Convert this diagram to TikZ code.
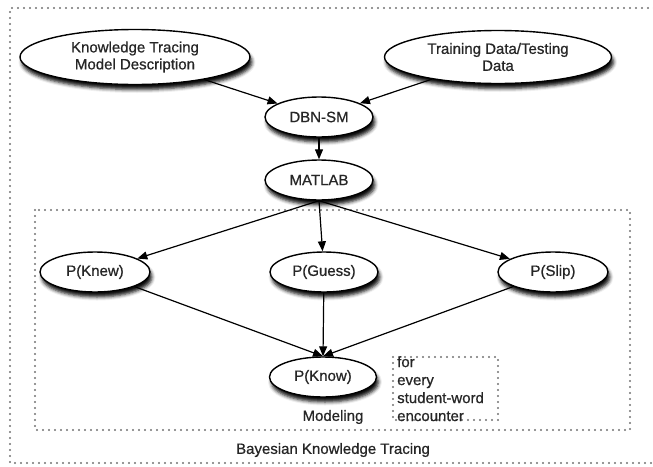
\documentclass[tikz,border=0pt]{standalone}
\usepackage{fontspec}
\setmainfont[FakeBold=0.7]{Liberation Sans}
\usetikzlibrary{shapes.geometric,arrows.meta,shadows.blur}
\begin{document}
\begin{tikzpicture}[x=1pt,y=-1pt,
  txt/.style={font=\fontsize{15}{17}\selectfont, text=black!85},
  oval/.style={ellipse, draw=black, line width=1.4pt, fill=white, inner sep=0pt,
    txt, align=center,
    blur shadow={shadow xshift=2pt, shadow yshift=-5pt, shadow blur radius=3.5pt, shadow opacity=95}},
  dotline/.style={draw=black!55, line width=2.2pt, line cap=round, dash pattern=on 0pt off 6pt},
  arr/.style={-{Triangle[length=10pt,width=8pt]}, line width=1.2pt, black}]
\useasboundingbox (0,0) rectangle (653,466);
% outer and inner dotted frames
\draw[dotline] (660,8) -- (10,8) -- (10,463) -- (660,463);
\draw[dotline] (35,210) rectangle (630,430);
\draw[dotline] (393,357) rectangle (498,420);
% nodes
\node[oval, minimum width=230pt, minimum height=55pt] (kt) at (135,57) {Knowledge Tracing\\Model Description};
\node[oval, minimum width=227pt, minimum height=53pt] (td) at (498,57) {Training Data/Testing\\Data};
\node[oval, minimum width=108pt, minimum height=40pt] (dbn) at (319,117) {DBN-SM};
\node[oval, minimum width=108pt, minimum height=40pt] (matlab) at (319,180) {MATLAB};
\node[oval, minimum width=110pt, minimum height=40pt] (knew) at (95,272) {P(Knew)};
\node[oval, minimum width=108pt, minimum height=40pt] (guess) at (324,272) {P(Guess)};
\node[oval, minimum width=110pt, minimum height=40pt] (slip) at (553,272) {P(Slip)};
\node[oval, minimum width=107pt, minimum height=40pt] (know) at (323,377) {P(Know)};
\node[txt] (modeling) at (333,417) {Modeling};
\node[txt, anchor=north west, align=left, inner sep=0pt, font=\fontsize{15}{18}\selectfont] (every) at (397,356) {for\\every\\student-word\\encounter};
\node[txt] (bkt) at (333,450) {Bayesian Knowledge Tracing};
% connectors
\draw[arr] (kt) -- (dbn);
\draw[arr] (td) -- (dbn);
\draw[arr] (dbn) -- (matlab);
\draw[arr] (matlab.south) -- (knew);
\draw[arr] (matlab.south) -- (guess);
\draw[arr] (matlab.south) -- (slip);
\draw[arr] (knew) -- (know.north);
\draw[arr] (guess) -- (know.north);
\draw[arr] (slip) -- (know.north);
\end{tikzpicture}
\end{document}
